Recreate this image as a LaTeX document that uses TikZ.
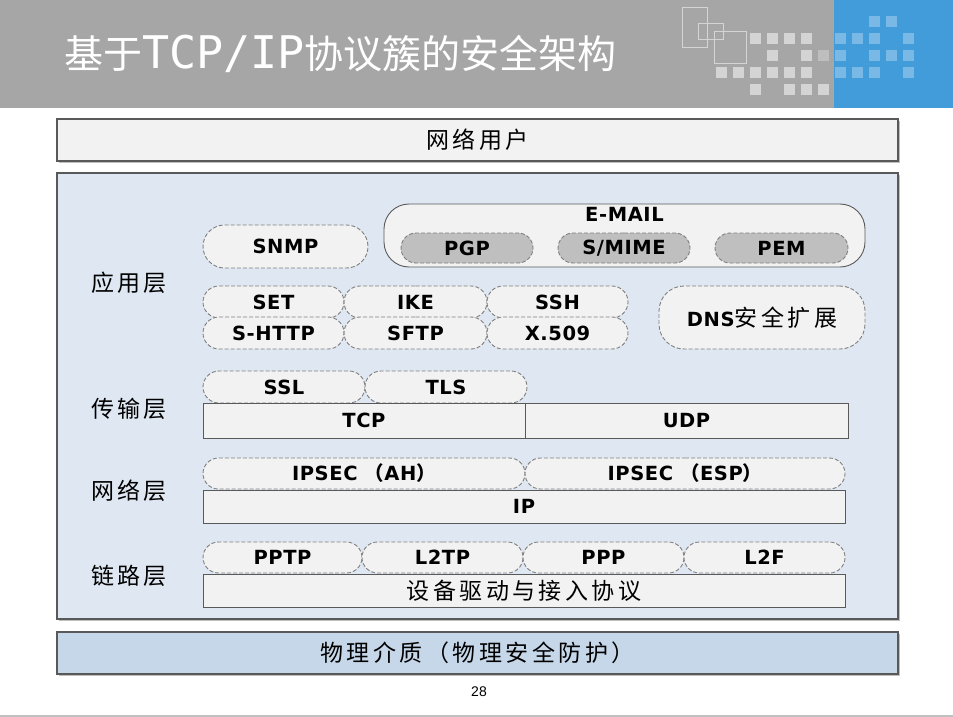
\documentclass[tikz,border=0pt]{standalone}
\usepackage{fontspec}
\usepackage{xcolor}
\usepackage{tikz}
\usetikzlibrary{positioning,shapes.misc,shadows}

\setmainfont{DejaVu Sans}
\newfontfamily\cjk[LetterSpace=15]{Noto Sans CJK SC}
\newfontfamily\titlecjk{Noto Sans CJK SC}
\newfontfamily\titlemono{DejaVu Sans Mono}
\newfontfamily\latb[LetterSpace=3]{DejaVu Sans}
\newfontfamily\numfont{Liberation Sans}

\newcommand{\latfont}{\latb\bfseries\fontsize{19.5}{23}\selectfont}
\newcommand{\labfont}{\cjk\fontsize{23}{27}\selectfont}
\newcommand{\fwl}{{\cjk\bfseries\ （}}
\newcommand{\fwr}{{\cjk\bfseries ）}}

\definecolor{headgray}{HTML}{A6A6A6}
\definecolor{headblue}{HTML}{439CDA}
\definecolor{sqgray}{HTML}{D4D4D4}
\definecolor{sqdark}{HTML}{BEBEBE}
\definecolor{sqblue}{HTML}{7AB8E6}
\definecolor{linegray}{HTML}{595959}
\definecolor{dashgray}{HTML}{7F7F7F}
\definecolor{boxfill}{HTML}{F2F2F2}
\definecolor{mainfill}{HTML}{DFE8F2}
\definecolor{physfill}{HTML}{C5D7E8}
\definecolor{pgpfill}{HTML}{BFBFBF}
\definecolor{rulegray}{HTML}{C0C0C0}

\begin{document}
\begin{tikzpicture}[x=1pt, y=-1pt,
                    every node/.style={inner sep=0pt, outer sep=0pt},
                    frame/.style={rectangle, draw=linegray, line width=1.1pt, fill=boxfill,
                                  drop shadow={shadow xshift=2pt, shadow yshift=-2pt, fill=black!25, opacity=1}},
                    pill/.style={rounded rectangle, draw=dashgray, line width=0.9pt,
                                 dash pattern=on 4pt off 2pt, fill=boxfill, minimum height=32pt, font=\latfont},
                    graypill/.style={pill, fill=pgpfill, minimum height=30pt, minimum width=132pt},
                    block/.style={rectangle, draw=linegray, line width=0.9pt, fill=boxfill, font=\latfont},
                    roundbox/.style={rectangle, rounded corners=25pt, line width=0.9pt, fill=boxfill},
                    layer/.style={font=\labfont}]
    \useasboundingbox (0,0) rectangle (953,717);

    % title bar
    \fill[headgray] (0,0) rectangle (834,108);
    \fill[headblue] (834,0) rectangle (953,108);
    \draw[sqgray, line width=0.8pt] (682,7) rectangle (707,47);
    \draw[sqgray, line width=0.8pt] (698,23) rectangle (723,39);
    \draw[sqgray, line width=0.8pt] (714,31) rectangle (746,63);
    \foreach \x/\y in {750/33,767/33,784/33,801/33,767/50,801/50,
                       716/67,733/67,750/67,767/67,784/67,801/67,750/84,784/84,801/84,818/84}
        \fill[sqgray] (\x,\y) rectangle ++(11,11);
    \fill[sqdark] (818,50) rectangle ++(11,11);
    \foreach \x/\y in {869/16,886/16,835/33,852/33,869/33,903/33,
                       835/50,869/50,886/50,903/50,835/67,852/67,869/67,903/67}
        \fill[sqblue] (\x,\y) rectangle ++(11,11);

    \node[anchor=base west, text=white] (title) at (64,69)
        {{\titlecjk\fontsize{39}{44}\selectfont 基于}{\titlemono\fontsize{45}{50}\selectfont TCP/IP}{\titlecjk\fontsize{39}{44}\selectfont 协议簇的安全架构}};

    % outer boxes
    \node[frame, minimum width=841pt, minimum height=42pt, font=\labfont] (user) at (477.5,140) {网络用户};
    \node[frame, fill=mainfill, minimum width=841pt, minimum height=446pt] (stack) at (477.5,396) {};
    \node[frame, fill=physfill, minimum width=841pt, minimum height=42pt, font=\labfont] (medium) at (477.5,653) {物理介质（物理安全防护）};

    \node[layer] (app_layer)       at (129,283) {应用层};
    \node[layer] (transport_layer) at (129,409) {传输层};
    \node[layer] (network_layer)   at (129,491) {网络层};
    \node[layer] (link_layer)      at (129,576) {链路层};

    % application layer
    \node[pill, minimum width=165pt, minimum height=43pt] (snmp) at (285.5,246.5) {SNMP};
    \node[roundbox, draw=linegray, minimum width=481pt, minimum height=63pt] (email) at (624.5,235.5) {};
    \node[font=\latfont] (email_title) at (624.5,214) {E-MAIL};
    \node[graypill] (pgp) at (467,248) {PGP};
    \node[graypill] (smime) at (624,248) {S/MIME};
    \node[graypill, minimum width=133pt] (pem) at (781.5,248) {PEM};

    \node[pill, minimum width=141pt] (set) at (273.5,302) {SET};
    \node[pill, minimum width=143pt, right=0pt of set] (ike) {IKE};
    \node[pill, minimum width=141pt, right=0pt of ike] (ssh) {SSH};
    \node[pill, minimum width=141pt] (shttp) at (273.5,333) {S-HTTP};
    \node[pill, minimum width=143pt, right=0pt of shttp] (sftp) {SFTP};
    \node[pill, minimum width=141pt, right=0pt of sftp] (x509) {X.509};
    \node[roundbox, draw=dashgray, dash pattern=on 4pt off 2pt, minimum width=206pt, minimum height=63pt] (dns)
        at (762,317.5) {{\latfont DNS}{\labfont 安全扩展}};

    % transport layer
    \node[pill, minimum width=162pt] (ssl) at (284,387) {SSL};
    \node[pill, minimum width=162pt, right=0pt of ssl] (tls) {TLS};
    \node[block, minimum width=322pt, minimum height=35pt] (tcp) at (364,420.5) {TCP};
    \node[block, minimum width=323pt, minimum height=35pt, right=0pt of tcp] (udp) {UDP};

    % network layer
    \node[pill, minimum width=322pt, minimum height=31pt] (ipsec_ah) at (364,473.5) {IPSEC\fwl AH\fwr};
    \node[pill, minimum width=320pt, minimum height=31pt, right=0pt of ipsec_ah] (ipsec_esp) {IPSEC\fwl ESP\fwr};
    \node[block, minimum width=642pt, minimum height=33pt] (ip) at (524,506.5) {IP};

    % link layer
    \node[pill, minimum width=159pt, minimum height=31pt] (pptp) at (282.5,557.5) {PPTP};
    \node[pill, minimum width=161pt, minimum height=31pt, right=0pt of pptp] (l2tp) {L2TP};
    \node[pill, minimum width=161pt, minimum height=31pt, right=0pt of l2tp] (ppp) {PPP};
    \node[pill, minimum width=161pt, minimum height=31pt, right=0pt of ppp] (l2f) {L2F};
    \node[block, minimum width=642pt, minimum height=33pt, font=\labfont] (driver) at (524,590.5) {设备驱动与接入协议};

    % footer
    \node[font=\numfont\fontsize{14}{16}\selectfont] (page_no) at (479,692) {28};
    \draw[rulegray, line width=2pt] (0,716) -- (953,716);
\end{tikzpicture}
\end{document}
